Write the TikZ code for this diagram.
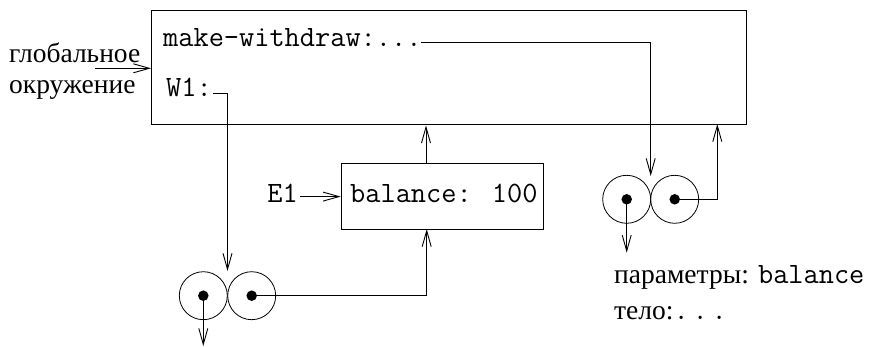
\documentclass[tikz,border=0pt]{standalone}
\usepackage{fontspec}
\setmainfont{Liberation Serif}
\usetikzlibrary{arrows.meta}
\newcommand{\ttbig}{\fontsize{29.5}{32}\ttfamily}
\tikzset{
  conn/.style={line width=0.9pt},
  arr/.style={conn,-{Straight Barb[length=16pt,width=9pt,line width=0.9pt]}},
  frame/.style={draw,line width=1.4pt},
  lbox/.style={draw,line width=0.9pt},
  cell/.style={draw,circle,line width=0.8pt,minimum size=48pt,inner sep=0pt},
  dot/.style={fill,circle,minimum size=10.5pt,inner sep=0pt},
  tt/.style={font=\ttbig,inner sep=0pt},
  rm/.style={font=\fontsize{27.5}{31}\selectfont,inner sep=0pt},
}
\begin{document}
\begin{tikzpicture}[x=1pt,y=-1pt]
\useasboundingbox (0,0) rectangle (872,347);
% global environment
\node[frame,minimum width=595pt,minimum height=114pt,anchor=north west,inner sep=0pt] (glob) at (151,10) {};
\node[tt,anchor=base west] (mw) at (163,47) {make-withdraw:...};
\node[tt,anchor=base west] (w1) at (166,97) {W1:};
\node[rm,anchor=base west] (gl1) at (9,63) {глобальное};
\node[rm,anchor=base west] (gl2) at (9,94) {окружение};
\coordinate (gin) at (95,68.3);
\draw[arr] (gin) -- (gin -| glob.west);
% E1 frame
\node[lbox,minimum width=202.6pt,minimum height=65.7pt,anchor=north west,inner sep=0pt] (e1box) at (340.7,163.3) {};
\node[tt,anchor=base west] (bal) at (350,203) {balance: 100};
\node[tt,anchor=base east] (e1) at (298,203) {E1};
\draw[arr] (e1.east |- e1box.west) ++(2,0) -- (e1box.west);
\coordinate (e1up) at (426,163.3);
\draw[arr] (e1up) -- (e1up |- glob.south);
% left procedure object
\node[cell] (c1) at (203.3,295.7) {};
\node[cell] (c2) at (251.7,295.7) {};
\node[dot] (d1) at (c1) {};
\node[dot] (d2) at (c2) {};
\coordinate (w1end) at (213,93);
\coordinate (w1down) at (227.5,93);
\draw[conn] (w1end) -- (w1down);
\draw[arr] (w1down) -- (227.5,271);
\draw[arr] (d1.center) -- (203.3,346);
\draw[arr] (d2.center) -- (426.7,295.7) -- (426.7,229);
% right procedure object
\node[cell] (c3) at (626.7,199.3) {};
\node[cell] (c4) at (674.7,199.3) {};
\node[dot] (d3) at (c3) {};
\node[dot] (d4) at (c4) {};
\coordinate (mwend) at (421,42);
\draw[arr] (mwend) -- (650.7,42) -- (650.7,176);
\draw[arr] (d3.center) -- (626.7,252.7);
\draw[arr] (d4.center) -- (717.3,199.3) -- (717.3,124);
% labels
\node[rm,anchor=base west] (par) at (614,283) {параметры: {\ttbig balance}};
\node[rm,anchor=base west] (body) at (614,319) {тело:{\ttbig .\hspace{3.8pt}.\hspace{3.8pt}.}};
\end{tikzpicture}
\end{document}
